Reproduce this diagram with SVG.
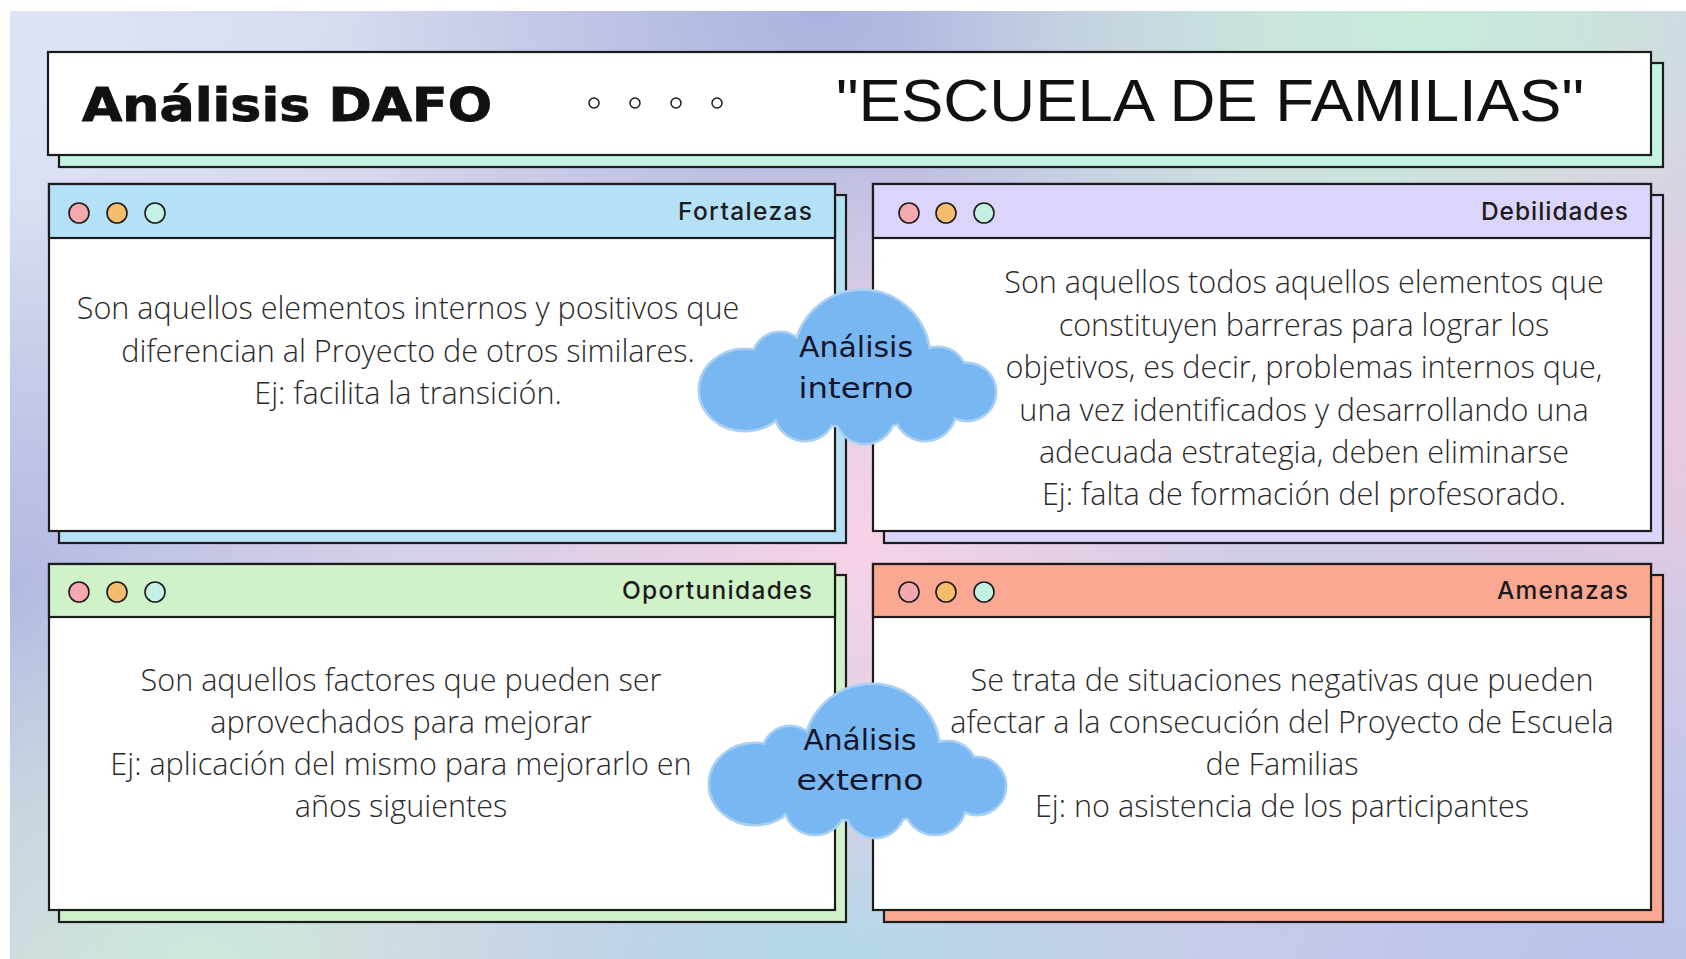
<svg xmlns="http://www.w3.org/2000/svg" xmlns:xlink="http://www.w3.org/1999/xlink" width="1686" height="959" viewBox="0 0 1686 959">
  <style>
    .frame { stroke: #1c1c1c; stroke-width: 2.2; }
    .white { fill: #ffffff; }
    .dot { stroke: #1c1c1c; stroke-width: 1.6; }
    .pink { fill: #f4a9ae; }
    .orange { fill: #f5bd6b; }
    .mint { fill: #c4f1e3; }
    .label { font-family: Inter, "Liberation Sans", sans-serif; font-weight: 500; font-size: 24.5px; fill: #1c1c1c; text-anchor: end; }
    .body { font-family: "Open Sans", "Liberation Sans", sans-serif; font-weight: 300; font-size: 30.6px; fill: #2a2a2a; text-anchor: middle; }
    .cloudtxt { font-family: "DejaVu Sans", Inter, sans-serif; font-weight: 400; font-size: 28px; fill: #15152a; text-anchor: middle; }
    .cloud-outline { fill: #a9d0f3; stroke: #a9d0f3; stroke-width: 5; }
    .cloud-fill { fill: #79b7f2; }
    .tdot { fill: none; stroke: #1c1c1c; stroke-width: 1.5; }
  </style>
  <defs>
    <linearGradient id="bgBase" x1="0" y1="0" x2="1" y2="1">
      <stop offset="0" stop-color="#d6ddf0"/>
      <stop offset="0.5" stop-color="#d6cde6"/>
      <stop offset="1" stop-color="#c4cbea"/>
    </linearGradient>
    <radialGradient id="gTopMid" gradientUnits="userSpaceOnUse" cx="820" cy="0" r="480">
      <stop offset="0" stop-color="#aab3df" stop-opacity="1"/>
      <stop offset="1" stop-color="#aab3df" stop-opacity="0"/>
    </radialGradient>
    <radialGradient id="gTopRight" gradientUnits="userSpaceOnUse" cx="1420" cy="20" r="520">
      <stop offset="0" stop-color="#c6ecd9" stop-opacity="1"/>
      <stop offset="1" stop-color="#c6ecd9" stop-opacity="0"/>
    </radialGradient>
    <radialGradient id="gTopLeft" gradientUnits="userSpaceOnUse" cx="0" cy="0" r="420">
      <stop offset="0" stop-color="#dde5f4" stop-opacity="1"/>
      <stop offset="1" stop-color="#dde5f4" stop-opacity="0"/>
    </radialGradient>
    <radialGradient id="gCenter" gradientUnits="userSpaceOnUse" cx="860" cy="545" r="400">
      <stop offset="0" stop-color="#f6d2e5" stop-opacity="1"/>
      <stop offset="1" stop-color="#f6d2e5" stop-opacity="0"/>
    </radialGradient>
    <radialGradient id="gLeft" gradientUnits="userSpaceOnUse" cx="0" cy="600" r="400">
      <stop offset="0" stop-color="#b2b8e2" stop-opacity="1"/>
      <stop offset="1" stop-color="#b2b8e2" stop-opacity="0"/>
    </radialGradient>
    <radialGradient id="gBotLeft" gradientUnits="userSpaceOnUse" cx="200" cy="980" r="440">
      <stop offset="0" stop-color="#cce9da" stop-opacity="1"/>
      <stop offset="1" stop-color="#cce9da" stop-opacity="0"/>
    </radialGradient>
    <radialGradient id="gBotMid" gradientUnits="userSpaceOnUse" cx="820" cy="980" r="420">
      <stop offset="0" stop-color="#b2d9e9" stop-opacity="1"/>
      <stop offset="1" stop-color="#b2d9e9" stop-opacity="0"/>
    </radialGradient>
    <radialGradient id="gBotRight" gradientUnits="userSpaceOnUse" cx="1600" cy="980" r="460">
      <stop offset="0" stop-color="#bcc3ea" stop-opacity="1"/>
      <stop offset="1" stop-color="#bcc3ea" stop-opacity="0"/>
    </radialGradient>
    <radialGradient id="gRight" gradientUnits="userSpaceOnUse" cx="1686" cy="430" r="400">
      <stop offset="0" stop-color="#e6cae0" stop-opacity="1"/>
      <stop offset="1" stop-color="#e6cae0" stop-opacity="0"/>
    </radialGradient>
    <g id="cloud-base">
      <circle cx="162" cy="68" r="67"/>
      <circle cx="80" cy="70" r="27"/>
      <ellipse cx="45" cy="100" rx="45" ry="40"/>
      <circle cx="105" cy="120" r="30"/>
      <circle cx="165" cy="124" r="29"/>
      <circle cx="225" cy="120" r="30"/>
      <circle cx="238" cy="86" r="28"/>
      <circle cx="267" cy="102" r="28"/>
      <ellipse cx="160" cy="100" rx="100" ry="36"/>
    </g>
  </defs>

  <!-- background -->
  <rect x="0" y="0" width="1686" height="959" fill="#ffffff"/>
  <g id="background">
    <rect x="10" y="11" width="1676" height="948" fill="url(#bgBase)"/>
    <rect x="10" y="11" width="1676" height="948" fill="url(#gTopLeft)"/>
    <rect x="10" y="11" width="1676" height="948" fill="url(#gLeft)"/>
    <rect x="10" y="11" width="1676" height="948" fill="url(#gTopMid)"/>
    <rect x="10" y="11" width="1676" height="948" fill="url(#gTopRight)"/>
    <rect x="10" y="11" width="1676" height="948" fill="url(#gRight)"/>
    <rect x="10" y="11" width="1676" height="948" fill="url(#gBotLeft)"/>
    <rect x="10" y="11" width="1676" height="948" fill="url(#gBotMid)"/>
    <rect x="10" y="11" width="1676" height="948" fill="url(#gBotRight)"/>
    <rect x="10" y="11" width="1676" height="948" fill="url(#gCenter)"/>
  </g>

  <!-- header -->
  <g id="header">
    <rect class="frame" x="59" y="63" width="1604" height="104" fill="#c3f3e3"/>
    <rect class="frame white" x="48" y="52" width="1603" height="103"/>
    <text x="82" y="121" textLength="410" lengthAdjust="spacingAndGlyphs" font-family="'DejaVu Sans', 'Liberation Sans', sans-serif" font-weight="700" font-size="46" fill="#111111" stroke="#111111" stroke-width="0.9">Análisis DAFO</text>
    <circle class="tdot" cx="594" cy="103" r="5"/>
    <circle class="tdot" cx="635" cy="103" r="5"/>
    <circle class="tdot" cx="676" cy="103" r="5"/>
    <circle class="tdot" cx="717" cy="103" r="5"/>
    <text x="836" y="121" textLength="748" lengthAdjust="spacingAndGlyphs" font-family="'Liberation Sans', Arial, sans-serif" font-weight="400" font-size="60" fill="#111111">"ESCUELA DE FAMILIAS"</text>
  </g>

  <!-- Fortalezas -->
  <g id="fortalezas">
    <rect class="frame" x="59" y="195" width="787" height="348" fill="#b5e1f7"/>
    <rect class="frame white" x="49" y="184" width="786" height="347"/>
    <rect class="frame" x="49" y="184" width="786" height="54" fill="#b5e1f7"/>
    <circle class="dot pink" cx="79" cy="213" r="10"/>
    <circle class="dot orange" cx="117" cy="213" r="10"/>
    <circle class="dot mint" cx="155" cy="213" r="10"/>
    <text class="label" x="812" y="220" textLength="134">Fortalezas</text>
    <text class="body" x="408" y="319">Son aquellos elementos internos y positivos que</text>
    <text class="body" x="408" y="362">diferencian al Proyecto de otros similares.</text>
    <text class="body" x="408" y="404">Ej: facilita la transición.</text>
  </g>

  <!-- Debilidades -->
  <g id="debilidades">
    <rect class="frame" x="884" y="195" width="779" height="348" fill="#dcd5fb"/>
    <rect class="frame white" x="873" y="184" width="778" height="347"/>
    <rect class="frame" x="873" y="184" width="778" height="54" fill="#dcd5fb"/>
    <circle class="dot pink" cx="909" cy="213" r="10"/>
    <circle class="dot orange" cx="946" cy="213" r="10"/>
    <circle class="dot mint" cx="984" cy="213" r="10"/>
    <text class="label" x="1628" y="220" textLength="147">Debilidades</text>
    <text class="body" x="1304" y="293">Son aquellos todos aquellos elementos que</text>
    <text class="body" x="1304" y="336">constituyen barreras para lograr los</text>
    <text class="body" x="1304" y="378">objetivos, es decir, problemas internos que,</text>
    <text class="body" x="1304" y="421">una vez identificados y desarrollando una</text>
    <text class="body" x="1304" y="463">adecuada estrategia, deben eliminarse</text>
    <text class="body" x="1304" y="505">Ej: falta de formación del profesorado.</text>
  </g>

  <!-- Oportunidades -->
  <g id="oportunidades">
    <rect class="frame" x="59" y="575" width="787" height="347" fill="#d0f2c8"/>
    <rect class="frame white" x="49" y="564" width="786" height="346"/>
    <rect class="frame" x="49" y="564" width="786" height="53" fill="#d0f2c8"/>
    <circle class="dot pink" cx="79" cy="592" r="10"/>
    <circle class="dot orange" cx="117" cy="592" r="10"/>
    <circle class="dot mint" cx="155" cy="592" r="10"/>
    <text class="label" x="812" y="599" textLength="190">Oportunidades</text>
    <text class="body" x="401" y="691">Son aquellos factores que pueden ser</text>
    <text class="body" x="401" y="733">aprovechados para mejorar</text>
    <text class="body" x="401" y="775">Ej: aplicación del mismo para mejorarlo en</text>
    <text class="body" x="401" y="817">años siguientes</text>
  </g>

  <!-- Amenazas -->
  <g id="amenazas">
    <rect class="frame" x="884" y="575" width="779" height="347" fill="#fba893"/>
    <rect class="frame white" x="873" y="564" width="778" height="346"/>
    <rect class="frame" x="873" y="564" width="778" height="53" fill="#fba893"/>
    <circle class="dot pink" cx="909" cy="592" r="10"/>
    <circle class="dot orange" cx="946" cy="592" r="10"/>
    <circle class="dot mint" cx="984" cy="592" r="10"/>
    <text class="label" x="1628" y="599" textLength="131">Amenazas</text>
    <text class="body" x="1282" y="691">Se trata de situaciones negativas que pueden</text>
    <text class="body" x="1282" y="733">afectar a la consecución del Proyecto de Escuela</text>
    <text class="body" x="1282" y="775">de Familias</text>
    <text class="body" x="1282" y="817">Ej: no asistencia de los participantes</text>
  </g>

  <!-- Clouds -->
  <g id="cloud-interno">
    <use href="#cloud-base" xlink:href="#cloud-base" class="cloud-outline" transform="translate(700,290)"/>
    <use href="#cloud-base" xlink:href="#cloud-base" class="cloud-fill" transform="translate(700,290)"/>
    <text class="cloudtxt" x="856" y="357" textLength="114" lengthAdjust="spacingAndGlyphs">Análisis</text>
    <text class="cloudtxt" x="856" y="398" textLength="115" lengthAdjust="spacingAndGlyphs">interno</text>
  </g>
  <g id="cloud-externo">
    <use href="#cloud-base" xlink:href="#cloud-base" class="cloud-outline" transform="translate(710,684)"/>
    <use href="#cloud-base" xlink:href="#cloud-base" class="cloud-fill" transform="translate(710,684)"/>
    <text class="cloudtxt" x="860" y="750" textLength="113" lengthAdjust="spacingAndGlyphs">Análisis</text>
    <text class="cloudtxt" x="860" y="790" textLength="127" lengthAdjust="spacingAndGlyphs">externo</text>
  </g>

  <g id="connectors"/>
</svg>
